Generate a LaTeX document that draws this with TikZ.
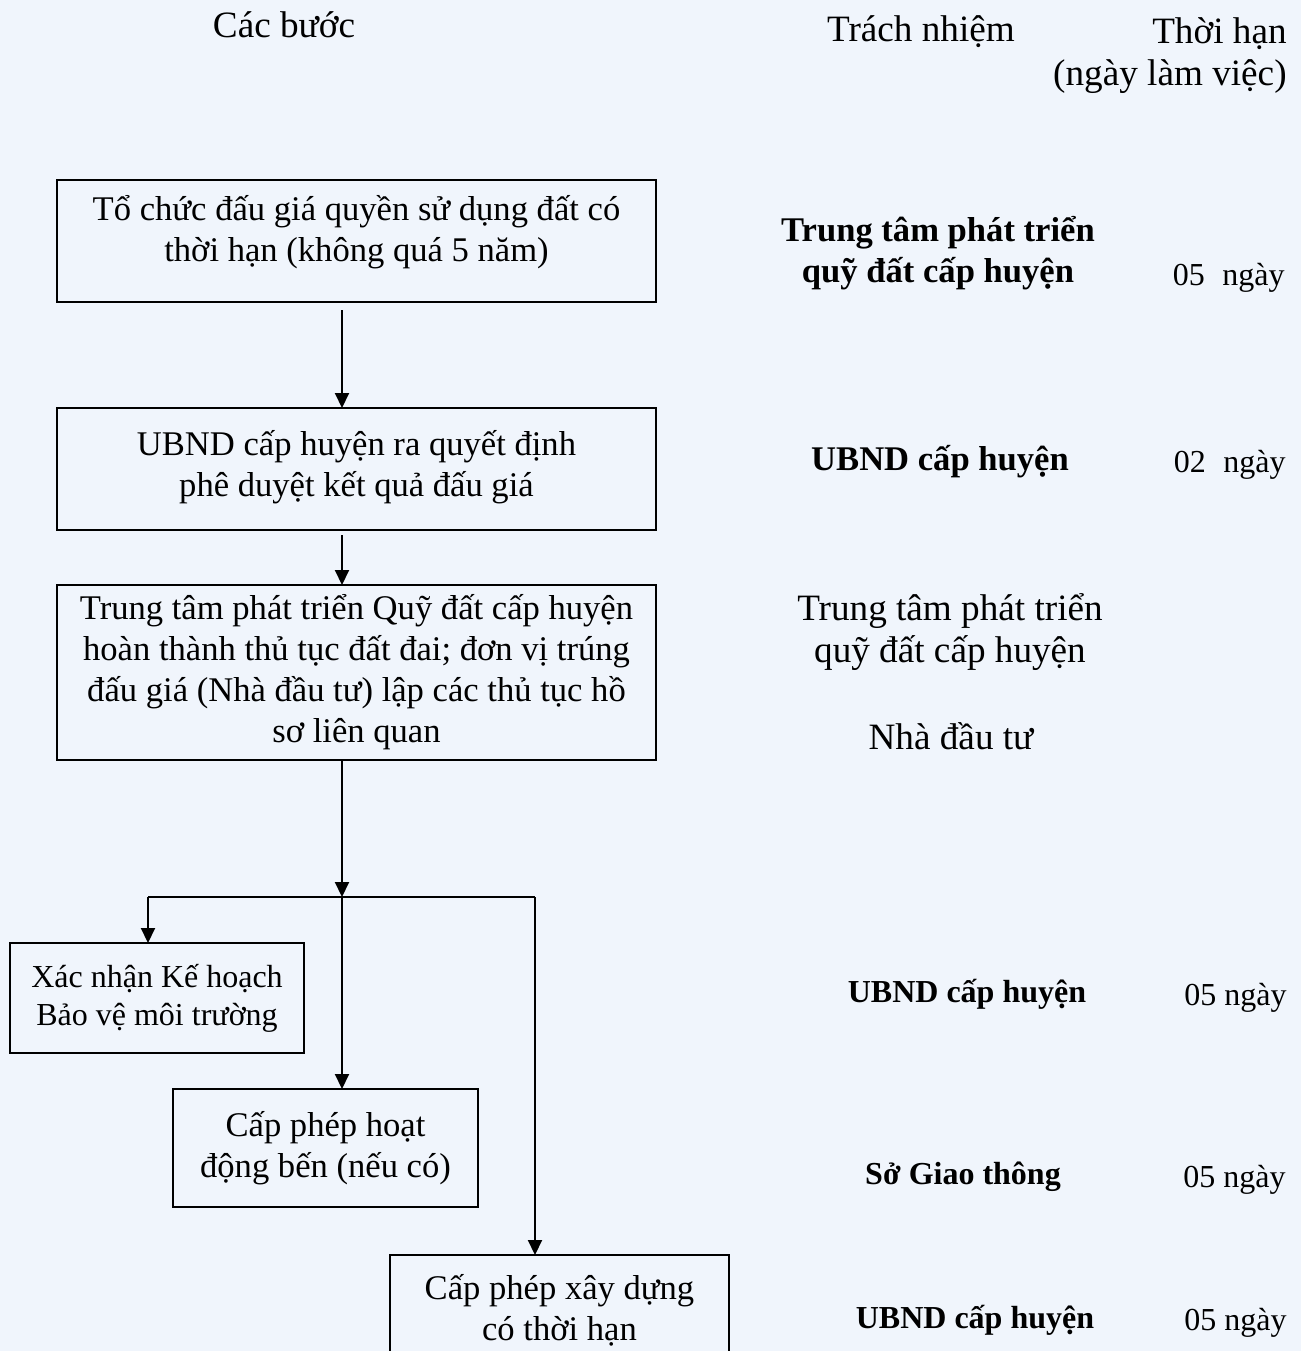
\documentclass[tikz,border=0pt]{standalone}
\usepackage{fontspec}
\setmainfont{Liberation Serif}
\usetikzlibrary{arrows.meta}
\definecolor{paper}{RGB}{240,245,252}

\begin{document}
\begin{tikzpicture}[
    x=0.5pt, y=-0.5pt,
    every node/.style={font=\fontsize{17.3}{20.5}\selectfont, inner sep=2pt, align=center},
    head/.style={font=\fontsize{18.6}{21}\selectfont},
    stepbox/.style={draw, line width=1pt, outer sep=0pt},
    resp/.style={font=\fontsize{17.3}{20.5}\selectfont\bfseries},
    resplow/.style={font=\fontsize{16}{19}\selectfont\bfseries},
    days/.style={anchor=east, font=\fontsize{16}{19}\selectfont},
    flow/.style={draw, line width=1pt, -{Triangle[width=7pt,length=7.5pt]}}
]
\useasboundingbox (0,0) rectangle (1301,1351);
\fill[paper] (0,0) rectangle (1301,1351);
\clip (0,0) rectangle (1301,1351);

% headings
\node[head] (hstep) at (284,25) {Các bước};
\node[head] (hresp) at (921,32) {Trách nhiệm};
\node[head, anchor=east, align=right] (htime) at (1291,56) {Thời hạn\\(ngày làm việc)};

% steps
\node[stepbox, minimum width=299.5pt, minimum height=61pt] (step1) at (356.5,241)
    {Tổ chức đấu giá quyền sử dụng đất có\\thời hạn (không quá 5 năm)\\[-8pt]};
\node[stepbox, minimum width=299.5pt, minimum height=61pt] (step2) at (356.5,469)
    {UBND cấp huyện ra quyết định\\phê duyệt kết quả đấu giá\\[-15pt]};
\node[stepbox, minimum width=299.5pt, minimum height=87.5pt] (step3) at (356.5,672.5)
    {Trung tâm phát triển Quỹ đất cấp huyện\\hoàn thành thủ tục đất đai; đơn vị trúng\\đấu giá (Nhà đầu tư) lập các thủ tục hồ\\sơ liên quan};
\node[stepbox, minimum width=147pt, minimum height=55pt, font=\fontsize{16}{19}\selectfont] (step4) at (157,998)
    {Xác nhận Kế hoạch\\Bảo vệ môi trường};
\node[stepbox, minimum width=152.5pt, minimum height=59pt] (step5) at (325.5,1148)
    {Cấp phép hoạt\\động bến (nếu có)};
\node[stepbox, minimum width=169.5pt, minimum height=55pt] (step6) at (559.5,1310)
    {Cấp phép xây dựng\\có thời hạn};

% responsibility and time
\node[resp] (resp1) at (938,253) {Trung tâm phát triển\\quỹ đất cấp huyện};
\node[days] (time1) at (1289,278) {05\hspace{0.55em}ngày};
\node[resp] (resp2) at (940,462) {UBND cấp huyện};
\node[days] (time2) at (1290,465) {02\hspace{0.55em}ngày};
\node[head] (resp3) at (950,632) {Trung tâm phát triển\\quỹ đất cấp huyện};
\node[head] (resp3b) at (951,736) {Nhà đầu tư};
\node[resplow] (resp4) at (967,994) {UBND cấp huyện};
\node[days] (time4) at (1291,998) {05 ngày};
\node[resplow] (resp5) at (963,1177) {Sở Giao thông};
\node[days] (time5) at (1290,1180) {05 ngày};
\node[resplow] (resp6) at (975,1320) {UBND cấp huyện};
\node[days] (time6) at (1291,1323) {05 ngày};

% connectors
\coordinate (fork) at (342,897);
\coordinate (forkl) at (148,897);
\coordinate (forkr) at (535,897);
\draw[flow] ([yshift=-4pt]step1.south -| fork) -- (step2.north -| fork);
\draw[flow] ([yshift=-2.5pt]step2.south -| fork) -- (step3.north -| fork);
\draw[flow] (step3.south -| fork) -- (fork);
\draw[line width=1pt] (forkl) -- (forkr);
\draw[flow] (forkl) -- (forkl |- step4.north);
\draw[flow] (fork) -- (fork |- step5.north);
\draw[flow] (forkr) -- (forkr |- step6.north);
\end{tikzpicture}
\end{document}
